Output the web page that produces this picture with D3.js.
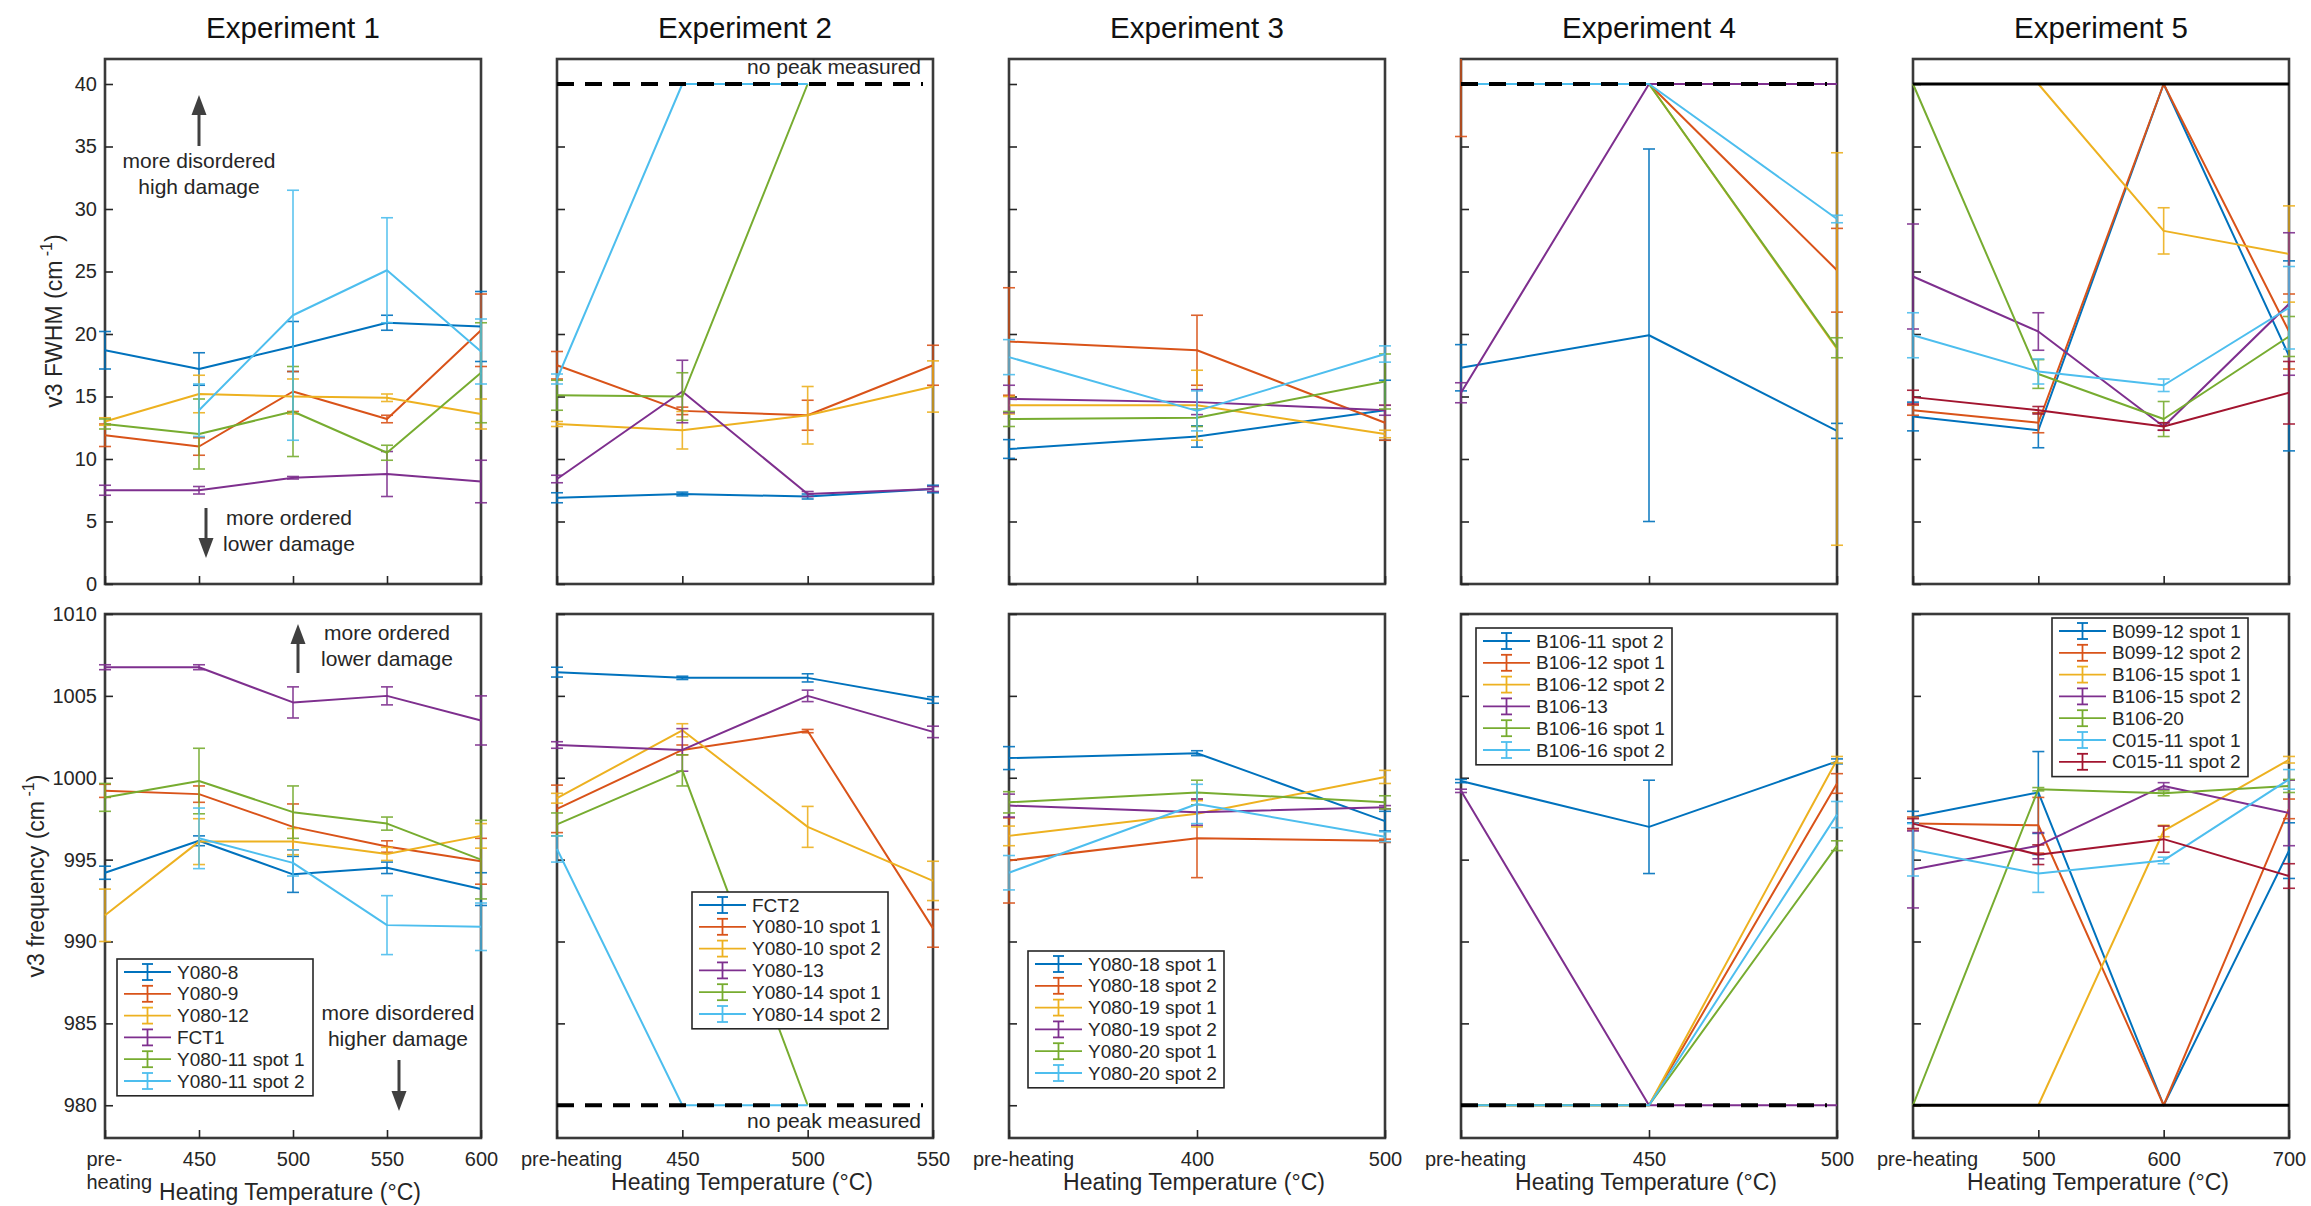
<!DOCTYPE html>
<html>
<head>
<meta charset="utf-8">
<script src="https://cdn.jsdelivr.net/npm/d3@7"></script>
<style>
  body { margin: 0; background: #fff; }
  svg { display: block; font-family: "Liberation Sans", Arial, Helvetica, sans-serif; }
</style>
</head>
<body>
<svg id="chart" width="2311" height="1206"></svg>
<script>
// ---------------- Data ----------------
// Sentinel values: 40 (FWHM) and 980 (frequency) mark "no peak measured".

const exp1Temps = ["pre-heating", "450", "500", "550", "600"];
const exp1Samples = ["Y080-8", "Y080-9", "Y080-12", "FCT1", "Y080-11 spot 1", "Y080-11 spot 2"];
const exp1Fwhm = [
  [18.7, 17.2, 19.0, 20.9, 20.6],
  [11.9, 11.0, 15.4, 13.2, 20.3],
  [13.0, 15.2, 15.0, 14.9, 13.6],
  [7.5, 7.5, 8.5, 8.8, 8.2],
  [12.8, 12.0, 13.8, 10.5, 16.9],
  [null, 13.9, 21.5, 25.1, 18.6]
];
const exp1FwhmErr = [
  [1.5, 1.3, 2.0, 0.6, 2.8],
  [0.9, 0.7, 1.6, 0.3, 2.9],
  [0.3, 1.5, 1.4, 0.3, 1.2],
  [0.4, 0.3, 0.1, 1.8, 1.7],
  [0.4, 2.8, 3.6, 0.6, 4.0],
  [null, 2.1, 10.0, 4.2, 2.6]
];
const exp1Freq = [
  [994.2, 996.15, 994.1, 994.5, 993.2],
  [999.2, 999.0, 997.0, 995.8, 994.9],
  [991.6, 996.1, 996.1, 995.35, 996.45],
  [1006.75, 1006.75, 1004.6, 1005.0, 1003.5],
  [998.8, 999.8, 997.9, 997.2, 995.0],
  [null, 996.3, 994.8, 991.0, 990.9]
];
const exp1FreqErr = [
  [0.4, 0.3, 1.1, 0.35, 1.0],
  [0.4, 0.5, 1.4, 0.35, 1.4],
  [1.6, 1.4, 0.8, 0.4, 0.75],
  [0.15, 0.15, 0.95, 0.55, 1.5],
  [0.85, 2.0, 1.6, 0.4, 2.4],
  [null, 1.85, 0.8, 1.8, 1.45]
];

const exp2Temps = ["pre-heating", "450", "500", "550"];
const exp2Samples = ["FCT2", "Y080-10 spot 1", "Y080-10 spot 2", "Y080-13", "Y080-14 spot 1", "Y080-14 spot 2"];
const exp2Fwhm = [
  [6.9, 7.2, 7.0, 7.6],
  [17.5, 13.85, 13.5, 17.5],
  [12.8, 12.3, 13.5, 15.8],
  [8.4, 15.4, 7.2, 7.6],
  [15.1, 15.0, 40, null],
  [16.4, 40, 40, null]
];
const exp2FwhmErr = [
  [0.4, 0.15, 0.2, 0.3],
  [1.1, 0.3, 1.2, 1.6],
  [0.2, 1.5, 2.3, 2.05],
  [0.3, 2.5, 0.2, 0.2],
  [1.2, 1.9, 0, null],
  [0.4, 0, 0, null]
];
const exp2Freq = [
  [1006.45, 1006.1, 1006.1, 1004.75],
  [998.1, 1001.7, 1002.85, 990.8],
  [998.75, 1002.9, 997.0, 993.7],
  [1002.0, 1001.7, 1005.0, 1002.8],
  [997.15, 1000.45, 980, null],
  [995.65, 980, 980, null]
];
const exp2FreqErr = [
  [0.3, 0.1, 0.25, 0.2],
  [1.45, 0.3, 0.1, 1.15],
  [0.3, 0.4, 1.25, 1.2],
  [0.2, 1.3, 0.35, 0.35],
  [0.7, 0.95, 0, null],
  [0.8, 0, 0, null]
];

const exp3Temps = ["pre-heating", "400", "500"];
const exp3Samples = ["Y080-18 spot 1", "Y080-18 spot 2", "Y080-19 spot 1", "Y080-19 spot 2", "Y080-20 spot 1", "Y080-20 spot 2"];
const exp3Fwhm = [
  [10.8, 11.8, 13.9],
  [19.4, 18.7, 12.9],
  [14.3, 14.3, 12.0],
  [14.8, 14.55, 13.9],
  [13.2, 13.3, 16.2],
  [18.15, 13.85, 18.4]
];
const exp3FwhmErr = [
  [0.75, 0.85, 2.4],
  [4.3, 2.8, 1.4],
  [0.7, 2.8, 0.3],
  [1.1, 1.0, 0.4],
  [0.6, 0.7, 2.2],
  [1.4, 1.6, 0.65]
];
const exp3Freq = [
  [1001.2, 1001.5, 997.35],
  [994.95, 996.3, 996.15],
  [996.45, 997.8, 1000.05],
  [998.3, 997.9, 998.2],
  [998.5, 999.1, 998.5],
  [994.2, 998.4, 996.4]
];
const exp3FreqErr = [
  [0.7, 0.15, 0.6],
  [2.6, 2.4, 0.1],
  [0.6, 0.8, 0.4],
  [0.7, 0.8, 0.1],
  [0.65, 0.75, 0.4],
  [1.05, 1.2, 0.3]
];

const exp4Temps = ["pre-heating", "450", "500"];
const exp4Samples = ["B106-11 spot 2", "B106-12 spot 1", "B106-12 spot 2", "B106-13", "B106-16 spot 1", "B106-16 spot 2"];
const exp4Fwhm = [
  [17.3, 19.9, 12.25],
  [40, 40, 25.1],
  [40, 40, 18.8],
  [15.3, 40, 40],
  [40, 40, 18.9],
  [40, 40, 29.2]
];
const exp4FwhmErr = [
  [1.85, 14.9, 0.6],
  [4.2, 0, 3.35],
  [0, 0, 15.7],
  [0.8, 0, 0],
  [0, 0, 0.8],
  [0, 0, 0.3]
];
const exp4Freq = [
  [999.8, 997.0, 1001.0],
  [980, 980, 999.65],
  [980, 980, 1001.1],
  [999.2, 980, 980],
  [980, 980, 995.85],
  [980, 980, 997.75]
];
const exp4FreqErr = [
  [0.1, 2.85, 0.15],
  [0, 0, 0.6],
  [0, 0, 0.2],
  [0.1, 0, 0],
  [0, 0, 0.3],
  [0, 0, 0.8]
];

const exp5Temps = ["pre-heating", "500", "600", "700"];
const exp5Samples = ["B099-12 spot 1", "B099-12 spot 2", "B106-15 spot 1", "B106-15 spot 2", "B106-20", "C015-11 spot 1", "C015-11 spot 2"];
const exp5Fwhm = [
  [13.4, 12.3, 40, 18.25],
  [13.9, 12.9, 40, 20.2],
  [40, 40, 28.25, 26.4],
  [24.6, 20.2, 12.6, 22.4],
  [40, 16.8, 13.2, 19.8],
  [19.9, 17.0, 15.9, 22.1],
  [14.95, 13.9, 12.6, 15.3]
];
const exp5FwhmErr = [
  [1.15, 1.4, 0, 7.6],
  [0.4, 0.8, 0, 3.0],
  [0, 0, 1.85, 3.85],
  [4.2, 1.5, 0.3, 5.7],
  [0, 1.15, 1.4, 1.6],
  [1.8, 1.0, 0.5, 3.3],
  [0.55, 0.3, 0.3, 2.5]
];
const exp5Freq = [
  [997.6, 999.1, 980, 995.55],
  [997.2, 997.1, 980, 998.1],
  [980, 980, 996.75, 1001.1],
  [994.4, 995.85, 999.5, 997.85],
  [980, 999.3, 999.05, 999.5],
  [995.6, 994.15, 994.95, 999.9],
  [997.2, 995.3, 996.25, 994.0]
];
const exp5FreqErr = [
  [0.35, 2.5, 0, 1.7],
  [0.4, 1.7, 0, 0.6],
  [0, 0, 0.35, 0.2],
  [2.35, 0.8, 0.2, 2.0],
  [0, 0.1, 0.15, 0.4],
  [1.6, 1.15, 0.2, 0.6],
  [0.3, 0.6, 0.8, 0.75]
];

const fwhmTicks = [0, 5, 10, 15, 20, 25, 30, 35, 40];
const freqTicks = [980, 985, 990, 995, 1000, 1005, 1010];
const noPeakFwhm = 40;
const noPeakFreq = 980;

// MATLAB default line colour order
const palette = ["#0072BD", "#D95319", "#EDB120", "#7E2F8E", "#77AC30", "#4DBEEE", "#A2142F"];

// ---------------- Layout ----------------
const experiments = [
  { title: "Experiment 1", temps: exp1Temps, samples: exp1Samples, fwhm: exp1Fwhm, fwhmErr: exp1FwhmErr, freq: exp1Freq, freqErr: exp1FreqErr, limit: null, legend: [117, 959] },
  { title: "Experiment 2", temps: exp2Temps, samples: exp2Samples, fwhm: exp2Fwhm, fwhmErr: exp2FwhmErr, freq: exp2Freq, freqErr: exp2FreqErr, limit: "dashed-label", legend: [692, 892] },
  { title: "Experiment 3", temps: exp3Temps, samples: exp3Samples, fwhm: exp3Fwhm, fwhmErr: exp3FwhmErr, freq: exp3Freq, freqErr: exp3FreqErr, limit: null, legend: [1028, 951] },
  { title: "Experiment 4", temps: exp4Temps, samples: exp4Samples, fwhm: exp4Fwhm, fwhmErr: exp4FwhmErr, freq: exp4Freq, freqErr: exp4FreqErr, limit: "dashed", legend: [1476, 628] },
  { title: "Experiment 5", temps: exp5Temps, samples: exp5Samples, fwhm: exp5Fwhm, fwhmErr: exp5FwhmErr, freq: exp5Freq, freqErr: exp5FreqErr, limit: "solid", legend: [2052, 618] }
];

const panelLeft0 = 105, panelStep = 452, panelW = 376;
const topRow = { y0: 59, y1: 584, domain: [0, 42], ticks: fwhmTicks, key: "fwhm", errKey: "fwhmErr", limitVal: noPeakFwhm };
const botRow = { y0: 614, y1: 1138, domain: [978, 1010], ticks: freqTicks, key: "freq", errKey: "freqErr", limitVal: noPeakFreq };

const ink = "#262626";
const svg = d3.select("#chart");
const defs = svg.append("defs");

function drawPanel(exp, i, row, isBottom) {
  const left = panelLeft0 + panelStep * i;
  const right = left + panelW;
  const x = d3.scalePoint().domain(exp.temps).range([left, right]).padding(0);
  const y = d3.scaleLinear().domain(row.domain).range([row.y1, row.y0]);
  const g = svg.append("g");

  const clipId = `clip-${i}-${isBottom ? "b" : "t"}`;
  defs.append("clipPath").attr("id", clipId)
    .append("rect").attr("x", left - 20).attr("y", row.y0).attr("width", panelW + 40).attr("height", row.y1 - row.y0);

  // axes box (drawn beneath the data)
  g.append("rect").attr("x", left).attr("y", row.y0).attr("width", panelW).attr("height", row.y1 - row.y0)
    .attr("fill", "none").attr("stroke", "#3a3a3a").attr("stroke-width", 2.6);

  // y axis
  const yAxis = d3.axisLeft(y).tickValues(row.ticks).tickSizeInner(-8).tickSizeOuter(0).tickPadding(8)
    .tickFormat(i === 0 ? d3.format("d") : () => "");
  const ya = g.append("g").attr("transform", `translate(${left},0)`).attr("color", ink).call(yAxis);
  ya.select(".domain").remove();
  ya.selectAll("line").attr("stroke-width", 1.6);
  ya.selectAll("text").attr("font-size", 20).attr("font-family", "Liberation Sans, Arial, sans-serif");

  // x axis
  const xAxis = d3.axisBottom(x).tickSizeInner(-8).tickSizeOuter(0).tickPadding(14)
    .tickFormat(isBottom ? d => d : () => "");
  const xa = g.append("g").attr("transform", `translate(0,${row.y1})`).attr("color", ink).call(xAxis);
  xa.select(".domain").remove();
  xa.selectAll("line").attr("stroke-width", 1.6);
  xa.selectAll("text").attr("font-size", 20).attr("font-family", "Liberation Sans, Arial, sans-serif");

  if (isBottom) {
    const first = xa.selectAll(".tick").filter((d, k) => k === 0).select("text");
    if (i === 0) {
      // two-line label on the first panel
      first.text(null).attr("text-anchor", "start").attr("x", 86 - left);
      first.append("tspan").attr("x", 86 - left).attr("dy", "0.71em").text("pre-");
      first.append("tspan").attr("x", 86 - left).attr("dy", "1.15em").text("heating");
    } else {
      first.attr("x", 14);
    }
    g.append("text")
      .attr("x", (left + right) / 2 - 3)
      .attr("y", i === 0 ? 1200 : 1190)
      .attr("text-anchor", "middle")
      .attr("font-size", 23).attr("fill", ink)
      .text("Heating Temperature (°C)");
  }

  const data = exp[row.key];
  const errs = exp[row.errKey];
  const plot = g.append("g").attr("clip-path", `url(#${clipId})`);

  const line = d3.line()
    .defined(d => d.v != null)
    .x(d => x(d.t)).y(d => y(d.v));

  data.forEach((vals, s) => {
    const pts = vals.map((v, k) => ({ t: exp.temps[k], v, e: errs[s][k] }));
    const col = palette[s % palette.length];
    plot.append("path").datum(pts).attr("d", line)
      .attr("fill", "none").attr("stroke", col).attr("stroke-width", 2).attr("stroke-linejoin", "round");
    const bars = plot.append("g").attr("stroke", col).attr("stroke-width", 1.6).attr("opacity", 0.9);
    pts.filter(p => p.v != null && p.e > 0).forEach(p => {
      const cx = x(p.t), ya1 = y(p.v - p.e), ya2 = y(p.v + p.e);
      bars.append("line").attr("x1", cx).attr("x2", cx).attr("y1", ya1).attr("y2", ya2);
      bars.append("line").attr("x1", cx - 6).attr("x2", cx + 6).attr("y1", ya1).attr("y2", ya1);
      bars.append("line").attr("x1", cx - 6).attr("x2", cx + 6).attr("y1", ya2).attr("y2", ya2);
    });
  });

  // "no peak measured" reference line
  if (exp.limit) {
    const ly = y(row.limitVal);
    const xEnd = exp.limit === "solid" ? x(exp.temps[exp.temps.length - 1]) : x(exp.temps[exp.temps.length - 1]) - 10;
    const ref = g.append("line").attr("x1", x(exp.temps[0])).attr("x2", xEnd).attr("y1", ly).attr("y2", ly)
      .attr("stroke", "#000");
    if (exp.limit === "solid") {
      ref.attr("stroke-width", 3.2);
    } else {
      ref.attr("stroke-width", 4).attr("stroke-dasharray", "17,11");
    }
    if (exp.limit === "dashed-label") {
      g.append("text")
        .attr("x", xEnd - 2)
        .attr("y", isBottom ? ly + 23 : ly - 10)
        .attr("text-anchor", "end").attr("font-size", 21).attr("fill", ink)
        .text("no peak measured");
    }
  }

  // legend in the lower row
  if (isBottom) {
    const [lx, lyTop] = exp.legend;
    const rowH = 21.8;
    const lg = g.append("g");
    lg.append("rect").attr("x", lx).attr("y", lyTop).attr("width", 196)
      .attr("height", exp.samples.length * rowH + 6)
      .attr("fill", "#fff").attr("stroke", ink).attr("stroke-width", 1.6);
    exp.samples.forEach((name, s) => {
      const cy = lyTop + 13 + s * rowH;
      const col = palette[s % palette.length];
      const ig = lg.append("g").attr("stroke", col).attr("stroke-width", 1.8);
      ig.append("line").attr("x1", lx + 7).attr("x2", lx + 54).attr("y1", cy).attr("y2", cy);
      ig.append("line").attr("x1", lx + 30.5).attr("x2", lx + 30.5).attr("y1", cy - 8).attr("y2", cy + 8);
      ig.append("line").attr("x1", lx + 25).attr("x2", lx + 36).attr("y1", cy - 8).attr("y2", cy - 8);
      ig.append("line").attr("x1", lx + 25).attr("x2", lx + 36).attr("y1", cy + 8).attr("y2", cy + 8);
      lg.append("text").attr("x", lx + 60).attr("y", cy).attr("dy", "0.35em")
        .attr("font-size", 19).attr("fill", ink).text(name);
    });
  }
  return { x, y, left, right };
}

experiments.forEach((exp, i) => {
  drawPanel(exp, i, topRow, false);
  drawPanel(exp, i, botRow, true);
  svg.append("text")
    .attr("x", panelLeft0 + panelStep * i + panelW / 2)
    .attr("y", 38)
    .attr("text-anchor", "middle").attr("font-size", 29.5).attr("fill", "#111")
    .text(exp.title);
});

// y-axis titles
function yTitle(cx, cy, main) {
  const t = svg.append("text")
    .attr("transform", `translate(${cx},${cy}) rotate(-90)`)
    .attr("text-anchor", "middle").attr("dy", "0.35em")
    .attr("font-size", 23).attr("fill", ink);
  t.append("tspan").text(main + " (cm");
  t.append("tspan").attr("font-size", 16).attr("dy", "-0.6em").text(" -1");
  t.append("tspan").attr("dy", "0.4em").text(")");
}
yTitle(54, 321, "v3 FWHM");
yTitle(36, 876, "v3 frequency");

// annotation arrows and notes on the first experiment
const annColor = "#404040";
function arrow(xc, yFrom, yTip, up) {
  const headLen = 20, headHalf = 7.5;
  const base = up ? yTip + headLen : yTip - headLen;
  svg.append("line").attr("x1", xc).attr("x2", xc).attr("y1", yFrom).attr("y2", base)
    .attr("stroke", annColor).attr("stroke-width", 3);
  svg.append("path")
    .attr("d", `M${xc},${yTip} L${xc - headHalf},${base} L${xc + headHalf},${base} Z`)
    .attr("fill", annColor);
}
function note(xc, y1, lines) {
  lines.forEach((s, k) => {
    svg.append("text").attr("x", xc).attr("y", y1 + k * 26).attr("dy", "0.35em")
      .attr("text-anchor", "middle").attr("font-size", 21).attr("fill", ink).text(s);
  });
}
arrow(199, 146, 95, true);
note(199, 161, ["more disordered", "high damage"]);
arrow(206, 508, 558, false);
note(289, 518, ["more ordered", "lower damage"]);
arrow(298, 673, 624, true);
note(387, 633, ["more ordered", "lower damage"]);
arrow(399, 1060, 1111, false);
note(398, 1013, ["more disordered", "higher damage"]);
</script>
</body>
</html>
